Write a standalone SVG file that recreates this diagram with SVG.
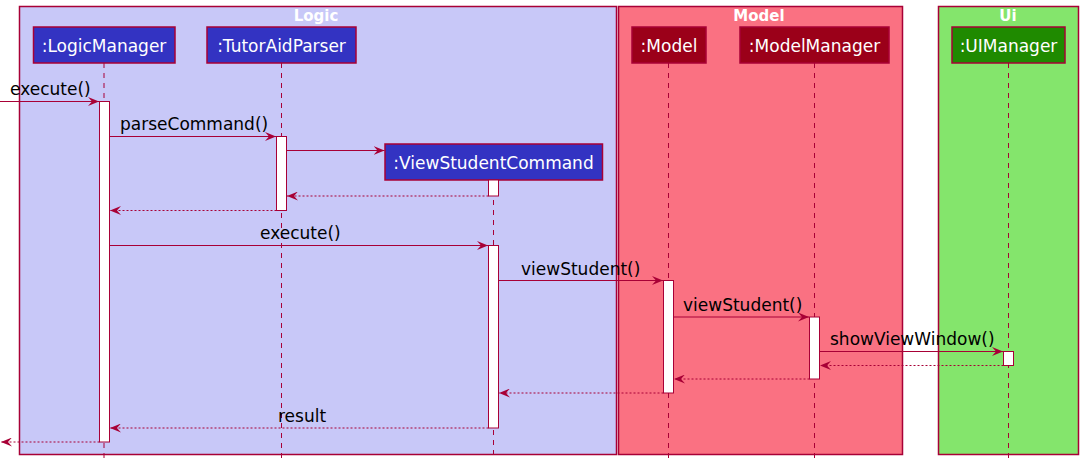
<svg xmlns="http://www.w3.org/2000/svg" width="1083" height="466" viewBox="0 0 1083 466">
<style>
.grp{stroke:#A80036;stroke-width:1.5}
.gt{font-family:"DejaVu Sans",sans-serif;font-size:15px;font-weight:bold;fill:#FFFFFF;text-anchor:middle}
.pbox{stroke:#A80036;stroke-width:1.5}
.pt{font-family:"DejaVu Sans",sans-serif;font-size:17px;fill:#FFFFFF;text-anchor:middle}
.life{stroke:#A80036;stroke-width:1;stroke-dasharray:5,5;fill:none}
.act{fill:#FFFFFF;stroke:#A80036;stroke-width:1}
.msg{stroke:#A80036;stroke-width:1;fill:none;marker-end:url(#ah)}
.ret{stroke:#A80036;stroke-width:1;stroke-dasharray:2,2;fill:none;marker-end:url(#ah)}
.ml{font-family:"DejaVu Sans",sans-serif;font-size:17px;fill:#000000}
</style>
<defs>
<marker id="ah" markerWidth="11" markerHeight="9" refX="11" refY="4.5" orient="auto" markerUnits="userSpaceOnUse">
<path d="M0,0 L11,4.5 L0,9 L4,4.5 Z" fill="#A80036"/>
</marker>
</defs>
<g id="groups">
<g id="group-logic">
<rect class="grp" x="19.5" y="6.5" width="597" height="448" fill="#C8C8F8"/>
<text class="gt" x="316" y="21">Logic</text>
</g>
<g id="group-model">
<rect class="grp" x="618.5" y="6.5" width="284" height="448" fill="#FA7182"/>
<text class="gt" x="759" y="21">Model</text>
</g>
<g id="group-ui">
<rect class="grp" x="938.5" y="6.5" width="140" height="448" fill="#84E56C"/>
<text class="gt" x="1008" y="21">Ui</text>
</g>
</g>
<g id="lifelines">
<line class="life" x1="104" y1="63" x2="104" y2="459"/>
<line class="life" x1="281.5" y1="63" x2="281.5" y2="459"/>
<line class="life" x1="493.5" y1="180" x2="493.5" y2="459"/>
<line class="life" x1="668.5" y1="63" x2="668.5" y2="459"/>
<line class="life" x1="814.5" y1="63" x2="814.5" y2="459"/>
<line class="life" x1="1008.5" y1="63" x2="1008.5" y2="459"/>
</g>
<g id="LogicManager">
<rect class="pbox" x="33.5" y="27" width="141.5" height="36" fill="#3333C2"/>
<text class="pt" x="104" y="52">:LogicManager</text>
<rect class="act" x="99.5" y="101.5" width="10" height="340.5"/>
</g>
<g id="TutorAidParser">
<rect class="pbox" x="207" y="27" width="149" height="36" fill="#3333C2"/>
<text class="pt" x="281.5" y="52">:TutorAidParser</text>
<rect class="act" x="276.5" y="136.5" width="10" height="74"/>
</g>
<g id="ViewStudentCommand">
<rect class="pbox" x="385" y="144" width="217.5" height="36" fill="#3333C2"/>
<text class="pt" x="493.5" y="168.5">:ViewStudentCommand</text>
<rect class="act" x="488.5" y="180" width="10" height="16"/>
<rect class="act" x="488.5" y="245.5" width="10" height="182.5"/>
</g>
<g id="Model">
<rect class="pbox" x="632" y="27" width="74" height="36" fill="#9B0019"/>
<text class="pt" x="669" y="52">:Model</text>
<rect class="act" x="663.5" y="280.5" width="10" height="112.5"/>
</g>
<g id="ModelManager">
<rect class="pbox" x="740" y="27" width="149" height="36" fill="#9B0019"/>
<text class="pt" x="814.5" y="52">:ModelManager</text>
<rect class="act" x="809.5" y="317" width="10" height="62"/>
</g>
<g id="UIManager">
<rect class="pbox" x="952" y="27" width="113" height="36" fill="#1F8A00"/>
<text class="pt" x="1008.5" y="52">:UIManager</text>
<rect class="act" x="1003.5" y="351.5" width="10" height="14"/>
</g>
<g id="connectors">
<line class="msg" x1="0" y1="101.5" x2="99" y2="101.5"/>
<text class="ml" x="10" y="95">execute()</text>
<line class="msg" x1="109.5" y1="136.5" x2="276" y2="136.5"/>
<text class="ml" x="120" y="130">parseCommand()</text>
<line class="msg" x1="286.5" y1="150.5" x2="384.5" y2="150.5"/>
<line class="ret" x1="488.5" y1="196" x2="287" y2="196"/>
<line class="ret" x1="276.5" y1="210.5" x2="110" y2="210.5"/>
<line class="msg" x1="109.5" y1="245.5" x2="488" y2="245.5"/>
<text class="ml" x="260" y="239">execute()</text>
<line class="msg" x1="498.5" y1="280.5" x2="663" y2="280.5"/>
<text class="ml" x="521" y="274.5">viewStudent()</text>
<line class="msg" x1="673.5" y1="317" x2="809" y2="317"/>
<text class="ml" x="683" y="310.5">viewStudent()</text>
<line class="msg" x1="819.5" y1="351.5" x2="1003" y2="351.5"/>
<text class="ml" x="830" y="345">showViewWindow()</text>
<line class="ret" x1="1003.5" y1="365.5" x2="820" y2="365.5"/>
<line class="ret" x1="809.5" y1="379" x2="674" y2="379"/>
<line class="ret" x1="663.5" y1="393" x2="499" y2="393"/>
<line class="ret" x1="488.5" y1="428" x2="110" y2="428"/>
<text class="ml" x="278" y="421.5">result</text>
<line class="ret" x1="99.5" y1="442" x2="1" y2="442"/>
</g>
</svg>
